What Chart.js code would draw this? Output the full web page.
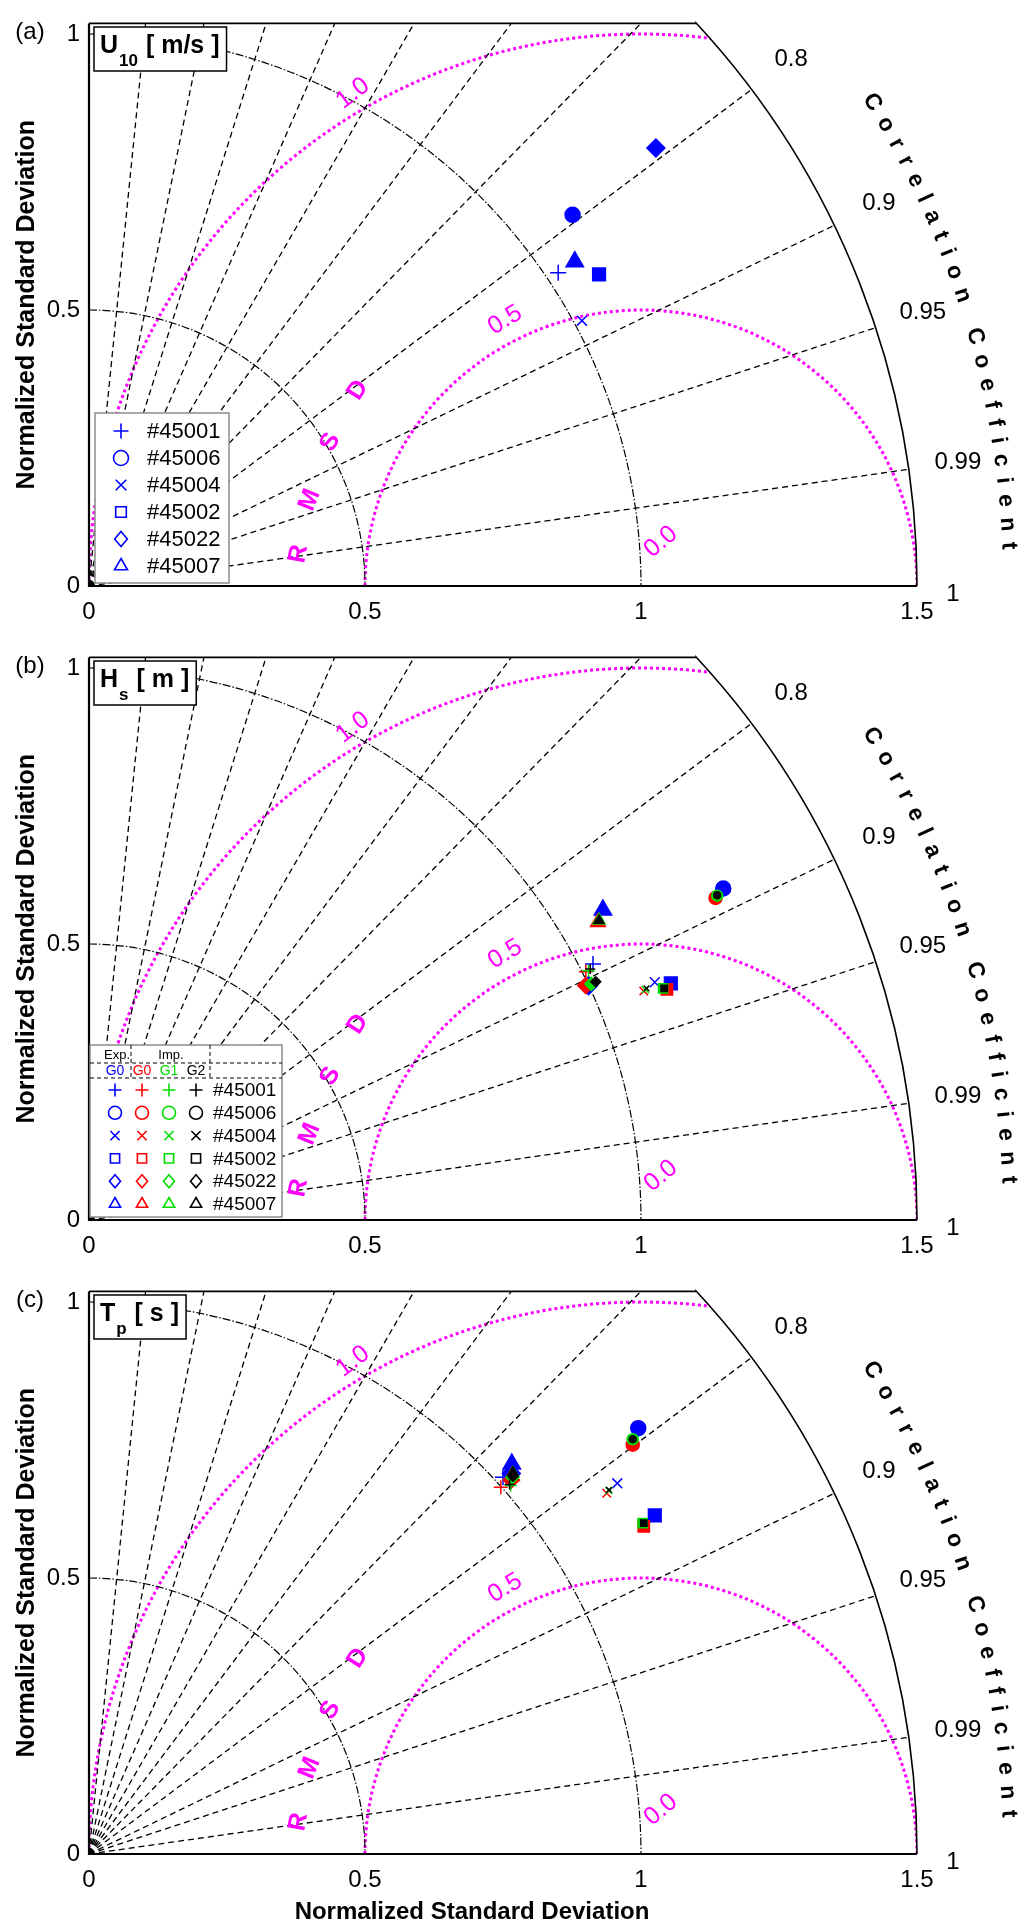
<!DOCTYPE html>
<html lang="en">
<head>
<meta charset="UTF-8">
<title>Taylor diagrams U10 / Hs / Tp</title>
<style>
  body { margin: 0; background: #fff; width: 1033px; height: 1930px; overflow: hidden; }
  canvas.panel { position: absolute; left: 0; }
</style>
</head>
<body>
<canvas id="chartA" class="panel" width="1033" height="634" style="top:0;width:1033px;height:634px"></canvas>
<canvas id="chartB" class="panel" width="1033" height="634" style="top:634px;width:1033px;height:634px"></canvas>
<canvas id="chartC" class="panel" width="1033" height="662" style="top:1268px;width:1033px;height:662px"></canvas>

<script src="https://cdn.jsdelivr.net/npm/chart.js"></script>
<script>
// buoys and their marker shapes
const stations = ['#45001', '#45006', '#45004', '#45002', '#45022', '#45007'];
const shapes = ['cross', 'circle', 'crossRot', 'rect', 'rectRot', 'triangle'];

// (a) U10, experiment G0 (x = std*R, y = std*sqrt(1-R^2), normalized)
const u10X = [0.850, 0.876, 0.893, 0.924, 1.027, 0.880];
const u10Y = [0.568, 0.673, 0.481, 0.565, 0.794, 0.588];

// (b) Hs
const hsExpG0X = [0.913, 1.149, 1.025, 1.054, 0.905, 0.931];
const hsExpG0Y = [0.464, 0.601, 0.431, 0.429, 0.425, 0.562];
const hsImpG0X = [0.900, 1.135, 1.005, 1.047, 0.900, 0.922];
const hsImpG0Y = [0.450, 0.584, 0.415, 0.418, 0.425, 0.540];
const hsImpG1X = [0.905, 1.138, 1.008, 1.040, 0.910, 0.924];
const hsImpG1Y = [0.452, 0.588, 0.418, 0.420, 0.428, 0.543];
const hsImpG2X = [0.908, 1.138, 1.010, 1.042, 0.918, 0.924];
const hsImpG2Y = [0.455, 0.589, 0.420, 0.420, 0.432, 0.543];

// (c) Tp
const tpExpG0X = [0.750, 0.995, 0.957, 1.025, 0.765, 0.766];
const tpExpG0Y = [0.683, 0.772, 0.672, 0.614, 0.690, 0.707];
const tpImpG0X = [0.746, 0.985, 0.938, 1.005, 0.765, 0.766];
const tpImpG0Y = [0.665, 0.742, 0.654, 0.594, 0.678, 0.685];
const tpImpG1X = [0.764, 0.985, 0.942, 1.003, 0.767, 0.768];
const tpImpG1Y = [0.668, 0.752, 0.659, 0.600, 0.683, 0.690];
const tpImpG2X = [0.762, 0.985, 0.942, 1.005, 0.768, 0.768];
const tpImpG2Y = [0.670, 0.752, 0.660, 0.600, 0.685, 0.692];

// diagram grid
const corrLines = [0.1, 0.2, 0.3, 0.4, 0.5, 0.6, 0.7, 0.8, 0.9, 0.95, 0.99];
const corrTicks = [0.8, 0.9, 0.95, 0.99, 1];
const stdArcs = [0.5, 1];
const rmsdCircles = [0.5, 1];
const rmsdTicks = ['0.0', '0.5', '1.0'];
const xTicks = [0, 0.5, 1, 1.5];
const yTicks = [0, 0.5, 1];

const FONT = '"Liberation Sans", Arial, sans-serif';
const MAGENTA = '#ff00ff';
const R_MAX = 1.5, Y_MAX = 1.02;

const groupColors = ['#0000ff', '#ff0000', '#00dd00', '#000000'];
const groupRadii = [
    [8, 7.5, 7, 9, 9, 10],
    [7, 6.5, 6, 8, 8, 8.5],
    [6, 5.5, 5, 6.5, 6.5, 7],
    [5, 3.5, 4, 4.5, 5, 5.5]
];

function pts(xs, ys) {
    return xs.map((v, i) => ({ x: v, y: ys[i] }));
}

function groupSet(xs, ys, g) {
    return {
        data: pts(xs, ys),
        pointStyle: shapes,
        pointRadius: groupRadii[g],
        pointHoverRadius: groupRadii[g],
        pointBackgroundColor: groupColors[g],
        pointBorderColor: groupColors[g],
        pointBorderWidth: 1.5,
        order: 4 - g
    };
}

// hollow marker for the legends
function drawMarker(ctx, style, cx, cy, r) {
    ctx.beginPath();
    if (style === 'cross') {
        ctx.moveTo(cx - r, cy); ctx.lineTo(cx + r, cy);
        ctx.moveTo(cx, cy - r); ctx.lineTo(cx, cy + r);
    } else if (style === 'crossRot') {
        const d = r * Math.SQRT1_2;
        ctx.moveTo(cx - d, cy - d); ctx.lineTo(cx + d, cy + d);
        ctx.moveTo(cx - d, cy + d); ctx.lineTo(cx + d, cy - d);
    } else if (style === 'circle') {
        ctx.arc(cx, cy, r, 0, 2 * Math.PI);
    } else if (style === 'rect') {
        const d = r * Math.SQRT1_2;
        ctx.rect(cx - d, cy - d, 2 * d, 2 * d);
    } else if (style === 'rectRot') {
        ctx.moveTo(cx, cy - r); ctx.lineTo(cx + r * 0.85, cy);
        ctx.lineTo(cx, cy + r); ctx.lineTo(cx - r * 0.85, cy); ctx.closePath();
    } else if (style === 'triangle') {
        ctx.moveTo(cx, cy - r); ctx.lineTo(cx + r * 0.866, cy + r / 2);
        ctx.lineTo(cx - r * 0.866, cy + r / 2); ctx.closePath();
    }
    ctx.stroke();
}

function rotText(ctx, txt, px, py, deg, font, color) {
    ctx.save();
    ctx.translate(px, py);
    ctx.rotate(deg * Math.PI / 180);
    ctx.font = font;
    ctx.fillStyle = color;
    ctx.textAlign = 'center';
    ctx.textBaseline = 'middle';
    ctx.fillText(txt, 0, 0);
    ctx.restore();
}

// grid of the Taylor diagram, drawn under the points
const taylorGrid = {
    id: 'taylorGrid',
    beforeDatasetsDraw(chart) {
        const { ctx, scales: { x, y } } = chart;
        const X = v => x.getPixelForValue(v), Y = v => y.getPixelForValue(v);
        const ox = X(0), oy = Y(0), u = X(1) - X(0);
        const xTop = Math.sqrt(R_MAX * R_MAX - Y_MAX * Y_MAX);
        const aTop = Math.asin(Y_MAX / R_MAX);

        ctx.save();
        ctx.beginPath();
        ctx.moveTo(ox, oy);
        ctx.lineTo(ox, Y(Y_MAX));
        ctx.lineTo(X(xTop), Y(Y_MAX));
        ctx.arc(ox, oy, R_MAX * u, -aTop, 0);
        ctx.closePath();
        ctx.clip();

        // RMSD circles around the reference point
        ctx.strokeStyle = MAGENTA;
        ctx.lineWidth = 3;
        ctx.setLineDash([3, 3]);
        rmsdCircles.forEach(r => {
            ctx.beginPath();
            ctx.arc(X(1), oy, r * u, Math.PI, 2 * Math.PI);
            ctx.stroke();
        });

        // correlation rays
        ctx.strokeStyle = '#000';
        ctx.lineWidth = 1.3;
        ctx.setLineDash([6, 4]);
        corrLines.forEach(c => {
            const th = Math.acos(c);
            ctx.beginPath();
            ctx.moveTo(ox, oy);
            ctx.lineTo(X(R_MAX * Math.cos(th)), Y(R_MAX * Math.sin(th)));
            ctx.stroke();
        });

        // std dev arcs
        ctx.lineWidth = 1.2;
        ctx.setLineDash([8, 2, 1.5, 2]);
        stdArcs.forEach(r => {
            ctx.beginPath();
            ctx.arc(ox, oy, r * u, -Math.PI / 2, 0);
            ctx.stroke();
        });
        ctx.restore();

        // frame: outer arc, top line, axes
        ctx.save();
        ctx.strokeStyle = '#000';
        ctx.lineWidth = 1.6;
        ctx.beginPath();
        ctx.moveTo(ox, Y(Y_MAX));
        ctx.lineTo(X(xTop), Y(Y_MAX));
        ctx.arc(ox, oy, R_MAX * u, -aTop, 0);
        ctx.stroke();
        ctx.lineWidth = 2.2;
        ctx.beginPath();
        ctx.moveTo(ox, Y(Y_MAX));
        ctx.lineTo(ox, oy);
        ctx.lineTo(X(R_MAX), oy);
        ctx.stroke();

        // correlation tick labels
        ctx.font = '24px ' + FONT;
        ctx.fillStyle = '#000';
        ctx.textAlign = 'center';
        ctx.textBaseline = 'middle';
        corrTicks.forEach(c => {
            const th = Math.acos(c);
            const rr = c === 1 ? 1.565 : 1.59;
            const dy = c === 1 ? -0.015 : 0;
            ctx.fillText(String(c), X(rr * Math.cos(th)), Y(rr * Math.sin(th) + dy));
        });

        // RMSD labels
        const mfont = '25px ' + FONT;
        rotText(ctx, rmsdTicks[0], X(1.036), Y(0.080), -40, mfont, MAGENTA);
        rotText(ctx, rmsdTicks[1], X(0.754), Y(0.482), -31, mfont, MAGENTA);
        rotText(ctx, rmsdTicks[2], X(0.478), Y(0.893), -37, mfont, MAGENTA);
        const bfont = 'bold 25px ' + FONT;
        rotText(ctx, 'R', X(0.380), Y(0.058), -80, bfont, MAGENTA);
        rotText(ctx, 'M', X(0.400), Y(0.156), -68, bfont, MAGENTA);
        rotText(ctx, 'S', X(0.437), Y(0.261), -62, bfont, MAGENTA);
        rotText(ctx, 'D', X(0.487), Y(0.355), -57, bfont, MAGENTA);

        // "Correlation Coefficient" along an arc
        const label = 'Correlation Coefficient';
        ctx.font = 'bold 23px ' + FONT;
        const R = 1.668 * u;
        const a0 = 31.7 * Math.PI / 180, a1 = 2.5 * Math.PI / 180;
        const ws = [...label].map(ch => ctx.measureText(ch).width);
        const span = ws.reduce((s, w) => s + w, 0) - ws[0] / 2 - ws[ws.length - 1] / 2;
        const gap = ((a0 - a1) * R - span) / (ws.length - 1);
        let run = 0;
        [...label].forEach((ch, i) => {
            if (i > 0) run += ws[i - 1] / 2 + gap + ws[i] / 2;
            const a = a0 - run / R;
            rotText(ctx, ch, ox + R * Math.cos(a), oy - R * Math.sin(a),
                90 - a * 180 / Math.PI, 'bold 23px ' + FONT, '#000');
        });
        ctx.restore();
    },

    afterDatasetsDraw(chart, args, opts) {
        const { ctx } = chart;
        ctx.save();

        // panel tag
        ctx.font = '24px ' + FONT;
        ctx.fillStyle = '#000';
        ctx.textAlign = 'center';
        ctx.textBaseline = 'middle';
        ctx.fillText(opts.tag, 30, 32);

        // variable box
        ctx.textAlign = 'left';
        ctx.textBaseline = 'alphabetic';
        let tx = 100;
        const base = 53;
        ctx.font = 'bold 25px ' + FONT;
        const wMain = ctx.measureText(opts.sym).width;
        ctx.font = 'bold 17px ' + FONT;
        const wSub = ctx.measureText(opts.sub).width;
        ctx.font = 'bold 25px ' + FONT;
        const wUnit = ctx.measureText(opts.unit).width;
        const boxR = tx + wMain + 1 + wSub + 1 + wUnit + 7;
        ctx.fillStyle = '#fff';
        ctx.fillRect(94, 27, boxR - 94, 44);
        ctx.strokeStyle = '#000';
        ctx.lineWidth = 1.5;
        ctx.strokeRect(94, 27, boxR - 94, 44);
        ctx.fillStyle = '#000';
        ctx.fillText(opts.sym, tx, base);
        tx += wMain + 1;
        ctx.font = 'bold 17px ' + FONT;
        ctx.fillText(opts.sub, tx, base + 13);
        tx += wSub + 1;
        ctx.font = 'bold 25px ' + FONT;
        ctx.fillText(opts.unit, tx, base);

        ctx.textBaseline = 'middle';
        if (opts.legend === 'single') {
            ctx.fillStyle = '#fff';
            ctx.fillRect(95, 413, 134, 170);
            ctx.strokeStyle = '#8c8c8c';
            ctx.lineWidth = 1.5;
            ctx.strokeRect(95, 413, 134, 170);
            ctx.font = '22px ' + FONT;
            stations.forEach((s, i) => {
                const yy = 431 + 27 * i;
                ctx.strokeStyle = groupColors[0];
                ctx.lineWidth = 1.6;
                drawMarker(ctx, shapes[i], 121, yy, 7.5);
                ctx.fillStyle = '#000';
                ctx.fillText(s, 147, yy + 1);
            });
        } else if (opts.legend === 'groups') {
            const top = 411, left = 90, right = 282, bottom = 583;
            ctx.fillStyle = '#fff';
            ctx.fillRect(left, top, right - left, bottom - top);
            ctx.strokeStyle = '#8c8c8c';
            ctx.lineWidth = 1.5;
            ctx.strokeRect(left, top, right - left, bottom - top);
            // header
            ctx.strokeStyle = '#000';
            ctx.lineWidth = 1;
            ctx.setLineDash([4, 3]);
            ctx.beginPath();
            [top + 18, top + 33].forEach(yy => { ctx.moveTo(left, yy); ctx.lineTo(right, yy); });
            [131, 210].forEach(xx => { ctx.moveTo(xx, top); ctx.lineTo(xx, top + 33); });
            ctx.stroke();
            ctx.setLineDash([]);
            ctx.textAlign = 'center';
            ctx.font = '13px ' + FONT;
            ctx.fillStyle = '#000';
            ctx.fillText('Exp.', 117, top + 10);
            ctx.fillText('Imp.', 171, top + 10);
            const cols = [115, 142, 169, 196];
            const gl = ['G0', 'G0', 'G1', 'G2'];
            ctx.font = '14px ' + FONT;
            cols.forEach((cx, g) => {
                ctx.fillStyle = groupColors[g];
                ctx.fillText(gl[g], cx, top + 26);
            });
            ctx.textAlign = 'left';
            ctx.font = '19px ' + FONT;
            stations.forEach((s, i) => {
                const yy = top + 45 + 22.8 * i;
                cols.forEach((cx, g) => {
                    ctx.strokeStyle = groupColors[g];
                    ctx.lineWidth = 1.6;
                    drawMarker(ctx, shapes[i], cx, yy, 6.5);
                });
                ctx.fillStyle = '#000';
                ctx.fillText(s, 213, yy + 1);
            });
        }

        if (opts.xTitle) {
            ctx.font = 'bold 24px ' + FONT;
            ctx.fillStyle = '#000';
            ctx.textAlign = 'center';
            ctx.textBaseline = 'middle';
            ctx.fillText('Normalized Standard Deviation', 472, 644);
        }
        ctx.restore();
    }
};

function makeChart(id, datasets, panel, height) {
    const xAxisH = height - 586;
    return new Chart(document.getElementById(id), {
        type: 'scatter',
        data: { datasets: datasets },
        options: {
            responsive: false,
            animation: false,
            layout: { padding: { top: 22, right: 116, left: 0, bottom: 0 } },
            scales: {
                x: {
                    type: 'linear', min: 0, max: R_MAX,
                    grid: { display: false, drawTicks: false },
                    border: { display: false },
                    afterBuildTicks: s => { s.ticks = xTicks.map(v => ({ value: v })); },
                    afterFit: s => { s.height = xAxisH; },
                    ticks: { padding: 12, color: '#000', font: { family: FONT, size: 24 }, callback: v => String(v) }
                },
                y: {
                    type: 'linear', min: 0, max: Y_MAX,
                    grid: { display: false, drawTicks: false },
                    border: { display: false },
                    afterBuildTicks: s => { s.ticks = yTicks.map(v => ({ value: v })); },
                    afterFit: s => { s.width = 89; },
                    ticks: { padding: 9, color: '#000', font: { family: FONT, size: 24 }, callback: v => String(v) },
                    title: {
                        display: true, text: 'Normalized Standard Deviation', color: '#000',
                        font: { family: FONT, size: 25, weight: 'bold' }, padding: { top: 12, bottom: 0 }
                    }
                }
            },
            plugins: {
                legend: { display: false },
                tooltip: { enabled: false },
                taylorGrid: panel
            }
        },
        plugins: [taylorGrid]
    });
}

makeChart('chartA', [groupSet(u10X, u10Y, 0)],
    { tag: '(a)', sym: 'U', sub: '10', unit: ' [ m/s ]', legend: 'single', xTitle: false }, 634);

makeChart('chartB', [
    groupSet(hsExpG0X, hsExpG0Y, 0),
    groupSet(hsImpG0X, hsImpG0Y, 1),
    groupSet(hsImpG1X, hsImpG1Y, 2),
    groupSet(hsImpG2X, hsImpG2Y, 3)
], { tag: '(b)', sym: 'H', sub: 's', unit: ' [ m ]', legend: 'groups', xTitle: false }, 634);

makeChart('chartC', [
    groupSet(tpExpG0X, tpExpG0Y, 0),
    groupSet(tpImpG0X, tpImpG0Y, 1),
    groupSet(tpImpG1X, tpImpG1Y, 2),
    groupSet(tpImpG2X, tpImpG2Y, 3)
], { tag: '(c)', sym: 'T', sub: 'p', unit: ' [ s ]', legend: 'none', xTitle: true }, 662);
</script>
</body>
</html>
